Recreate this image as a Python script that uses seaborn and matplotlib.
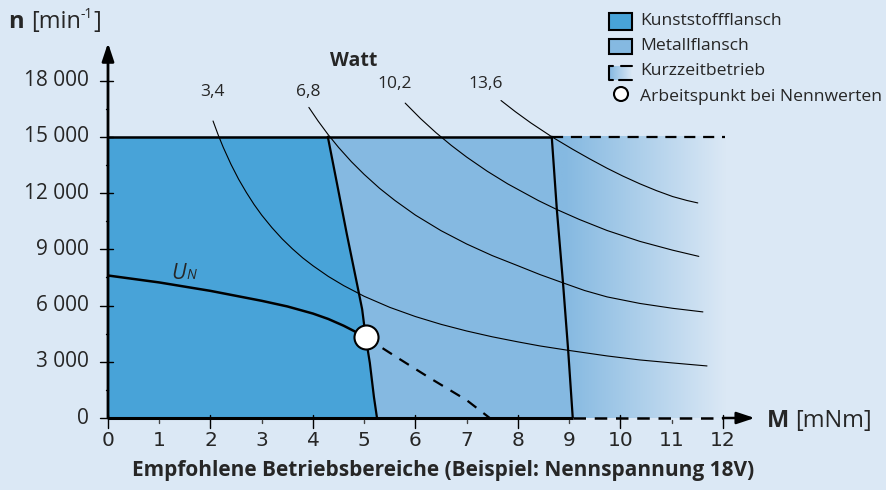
import numpy as np
import matplotlib
matplotlib.use("Agg")
import matplotlib.pyplot as plt
import seaborn as sns
import pandas as pd
from matplotlib.patches import Rectangle, Circle
from matplotlib.colors import to_rgb

sns.set_theme(style="white")
plt.rcParams['font.family'] = ['Open Sans', 'DejaVu Sans']

BG = '#dbe8f5'
KUNST = '#48a3d8'
METALL = '#85b9e1'

# ---------------- data ----------------
x_tick_values = list(range(13))
y_tick_values = [0, 3000, 6000, 9000, 12000, 15000, 18000]
y_tick_labels = ['0', '3 000', '6 000', '9 000', '12 000', '15 000', '18 000']
n_limit = 15000

kunst_M = [4.29, 4.47, 4.66, 4.86, 4.96, 5.03, 5.11, 5.19, 5.25]
kunst_n = [15000, 12490, 9820, 7150, 5800, 4300, 2940, 1120, 0]
metall_M = [8.66, 8.76, 8.88, 8.98, 9.07]
metall_n = [15000, 11100, 7200, 3630, 0]

un_M = [0, 1, 2, 3, 3.5, 4, 4.3, 4.6, 4.8, 5.03]
un_n = [7600, 7230, 6780, 6250, 5950, 5570, 5280, 4920, 4640, 4300]
un_short_M = [5.03, 5.6, 6.3, 7.0, 7.45]
un_short_n = [4300, 3300, 2100, 950, 0]
work_M = [5.03]
work_n = [4300]

watt_labels = ['3,4', '6,8', '10,2', '13,6']
w34_M = [2.05, 2.15, 2.25, 2.4, 2.55, 2.7, 2.85, 3.0, 3.2, 3.4, 3.6, 3.8, 4.0, 4.3,
         4.6, 5.0, 5.5, 6.0, 6.5, 7.0, 7.5, 8.0, 8.43, 8.98, 9.74, 10.38, 11.02, 11.69]
w34_n = [15840, 15100, 14430, 13530, 12730, 12030, 11390, 10820, 10150, 9550, 9020,
         8540, 8120, 7550, 7060, 6490, 5900, 5410, 4995, 4640, 4330, 4060, 3843, 3610,
         3310, 3096, 2936, 2776]
w68_M = [3.92, 4.1, 4.3, 4.5, 4.75, 5.0, 5.3, 5.6, 6.0, 6.5, 7.0, 7.5, 8.0, 8.43,
         8.88, 9.3, 9.74, 10.38, 11.02, 11.61]
w68_n = [16565, 15840, 15100, 14430, 13670, 12990, 12250, 11600, 10820, 9990, 9280,
         8660, 8120, 7650, 7207, 6800, 6459, 6110, 5850, 5658]
w102_M = [5.8, 6.1, 6.4, 6.7, 7.0, 7.4, 7.8, 8.4, 8.76, 9.2, 9.74, 10.38, 11.02, 11.53]
w102_n = [16794, 15968, 15219, 14538, 13915, 13163, 12488, 11595, 11119, 10587,
          10000, 9420, 8950, 8620]
w136_M = [7.67, 7.95, 8.25, 8.66, 9.07, 9.4, 9.74, 10.05, 10.38, 10.7, 11.02, 11.3, 11.51]
w136_n = [16932, 16336, 15742, 15000, 14330, 13820, 13320, 12900, 12490, 12130,
          11810, 11600, 11470]

legend_labels = ['Kunststoffflansch', 'Metallflansch', 'Kurzzeitbetrieb',
                 'Arbeitspunkt bei Nennwerten']

# ---------------- figure ----------------
W, H = 887, 490
fig = plt.figure(figsize=(W / 100, H / 100), dpi=100, facecolor=BG)
ax = fig.add_axes([108 / W, (H - 418) / H, (769 - 108) / W, (418 - 43) / H])
ax.set_facecolor('none')
XMAX, YMAX = 12.9, 20000

# gradient (Kurzzeitbetrieb)
c0 = np.array(to_rgb(METALL)); c1 = np.array(to_rgb(BG))
gx = np.linspace(0, 1, 256)
t = np.clip((gx * (12.05 - 8.6) + 8.6 - 8.9) / (12.05 - 8.9), 0, 1)
grad = (c0[None, :] * (1 - t[:, None]) + c1[None, :] * t[:, None])[None, :, :]
ax.imshow(grad, extent=[8.6, 12.05, 0, n_limit], aspect='auto', zorder=1,
          interpolation='bilinear')

# Metallflansch area
ax.fill(kunst_M + metall_M[::-1], kunst_n + metall_n[::-1], color=METALL, lw=0, zorder=2)
# Kunststoffflansch area
ax.fill([0, 0] + kunst_M, [0, n_limit] + kunst_n, color=KUNST, lw=0, zorder=3)

# power hyperbolas
for Ms, ns in [(w34_M, w34_n), (w68_M, w68_n), (w102_M, w102_n), (w136_M, w136_n)]:
    sns.lineplot(x=Ms, y=ns, ax=ax, color='black', lw=0.8, sort=False,
                 estimator=None, zorder=6)

# boundaries
for Ms, ns in [(kunst_M, kunst_n), (metall_M, metall_n)]:
    sns.lineplot(x=Ms, y=ns, ax=ax, color='black', lw=1.6, sort=False,
                 estimator=None, zorder=7)
ax.plot([0, metall_M[0]], [n_limit, n_limit], color='black', lw=1.8, zorder=7,
        solid_capstyle='butt')
ax.plot([metall_M[0], 12.05], [n_limit, n_limit], color='black', lw=1.6,
        ls=(0, (5, 3.5)), zorder=7)

# U_N characteristic
sns.lineplot(x=un_M, y=un_n, ax=ax, color='black', lw=1.8, sort=False,
             estimator=None, zorder=8)
ax.plot(un_short_M, un_short_n, color='black', lw=1.6, ls=(0, (5, 4)), zorder=8)
sns.scatterplot(x=work_M, y=work_n, ax=ax, s=300, color='white',
                edgecolor='black', linewidth=1.5, zorder=9)

# axes lines
ax.plot([0, metall_M[-1]], [0, 0], color='black', lw=2.2, zorder=10,
        solid_capstyle='butt', clip_on=False)
ax.plot([metall_M[-1], 12.0], [0, 0], color='black', lw=1.8, ls=(0, (5, 3.5)),
        zorder=10, clip_on=False)
ax.annotate('', xy=(12.62, 0), xytext=(12.0, 0),
            arrowprops=dict(arrowstyle='-|>,head_length=0.9,head_width=0.3',
                            lw=1.8, color='black', shrinkA=0, shrinkB=0),
            zorder=10, annotation_clip=False)
ax.annotate('', xy=(0, YMAX), xytext=(0, 0),
            arrowprops=dict(arrowstyle='-|>,head_length=0.9,head_width=0.3',
                            lw=2.0, color='black', shrinkA=0, shrinkB=0),
            zorder=10, annotation_clip=False)

# ticks
for i in x_tick_values:
    if i % 2 == 0:
        ax.plot([i, i], [160, -530], color='black', lw=1.0, clip_on=False, zorder=10)
    else:
        ax.plot([i, i], [-100, -250], color='#444444', lw=1.0, clip_on=False, zorder=10)
    ax.text(i, -1200, str(i), ha='center', va='center', fontsize=14.5,
            family=['Liberation Sans Narrow', 'DejaVu Sans'], clip_on=False)
for v, lab in zip(y_tick_values, y_tick_labels):
    ax.plot([-0.16, 0.1], [v, v], color='black', lw=1.0, clip_on=False, zorder=10)
    ax.text(-0.37, v, lab, ha='right', va='center', fontsize=15, clip_on=False)
for v in [1500, 4500, 7500, 10500, 13500, 16500]:
    ax.plot([-0.04, 0.0], [v, v], color='black', lw=1.0, clip_on=False, zorder=10)

ax.set_xlim(0, XMAX)
ax.set_ylim(0, YMAX)
ax.axis('off')

# ---------------- overlay for text / legend (pixel coords) ----------------
ov = fig.add_axes([0, 0, 1, 1], zorder=20)
ov.set_xlim(0, W); ov.set_ylim(H, 0); ov.axis('off'); ov.patch.set_alpha(0)
renderer = fig.canvas.get_renderer()


def chain(x, y, pieces):
    """Draw consecutive text pieces, each starting where the previous ends."""
    for s, dy, kw in pieces:
        tx = ov.text(x, y + dy, s, va='baseline', ha='left', **kw)
        bb = tx.get_window_extent(renderer)
        x += bb.width * W / fig.bbox.width


chain(9, 28, [('n ', 0, dict(fontsize=17, fontweight='bold')),
              ('[min', 0, dict(fontsize=17)),
              ('-1', -10, dict(fontsize=10)),
              (']', 0, dict(fontsize=17))])
chain(767, 427, [('M ', 0, dict(fontsize=17, fontweight='bold')),
                 ('[mNm]', 0, dict(fontsize=17))])

ov.text(443, 470, 'Empfohlene Betriebsbereiche (Beispiel: Nennspannung 18V)',
        fontsize=15, fontweight='bold', ha='center', va='center')

ov.text(354, 61, 'Watt', fontsize=14, fontweight='bold', ha='center', va='center')
for lab, (px, py) in zip(watt_labels, [(212, 92), (308, 92), (395, 84), (486, 84)]):
    ov.text(px, py, lab, fontsize=12.5, ha='center', va='center')

ov.text(171, 279, 'U', fontsize=15.5, style='italic', va='baseline')
ov.text(186, 279, 'N', fontsize=10, style='italic', va='baseline')

# legend
ov.add_patch(Rectangle((609, 13), 23, 17, facecolor=KUNST, edgecolor='black', lw=1.5))
ov.add_patch(Rectangle((609, 39), 23, 15, facecolor=METALL, edgecolor='black', lw=1.5))
lg = np.linspace(0, 1, 64)
lgrad = (c0[None, :] * (1 - lg[:, None]) + c1[None, :] * lg[:, None])[None, :, :]
ov.imshow(lgrad, extent=[609, 632, 80, 66], aspect='auto', interpolation='bilinear')
ov.plot([609.5, 609.5, 613], [66, 80, 80], color='black', lw=1.5)
ov.plot([609.5, 613], [66, 66], color='black', lw=1.5)
ov.plot([621, 632], [66, 66], color='black', lw=1.5)
ov.plot([619, 632], [80, 80], color='black', lw=1.5)
ov.add_patch(Circle((621, 94), 7, facecolor='white', edgecolor='black', lw=1.5))
ov.set_xlim(0, W); ov.set_ylim(H, 0)
for lab, py in zip(legend_labels, [21, 46, 71, 97]):
    ov.text(640, py, lab, fontsize=12.6, ha='left', va='center')

fig.savefig('out.png', dpi=100, facecolor=BG)
